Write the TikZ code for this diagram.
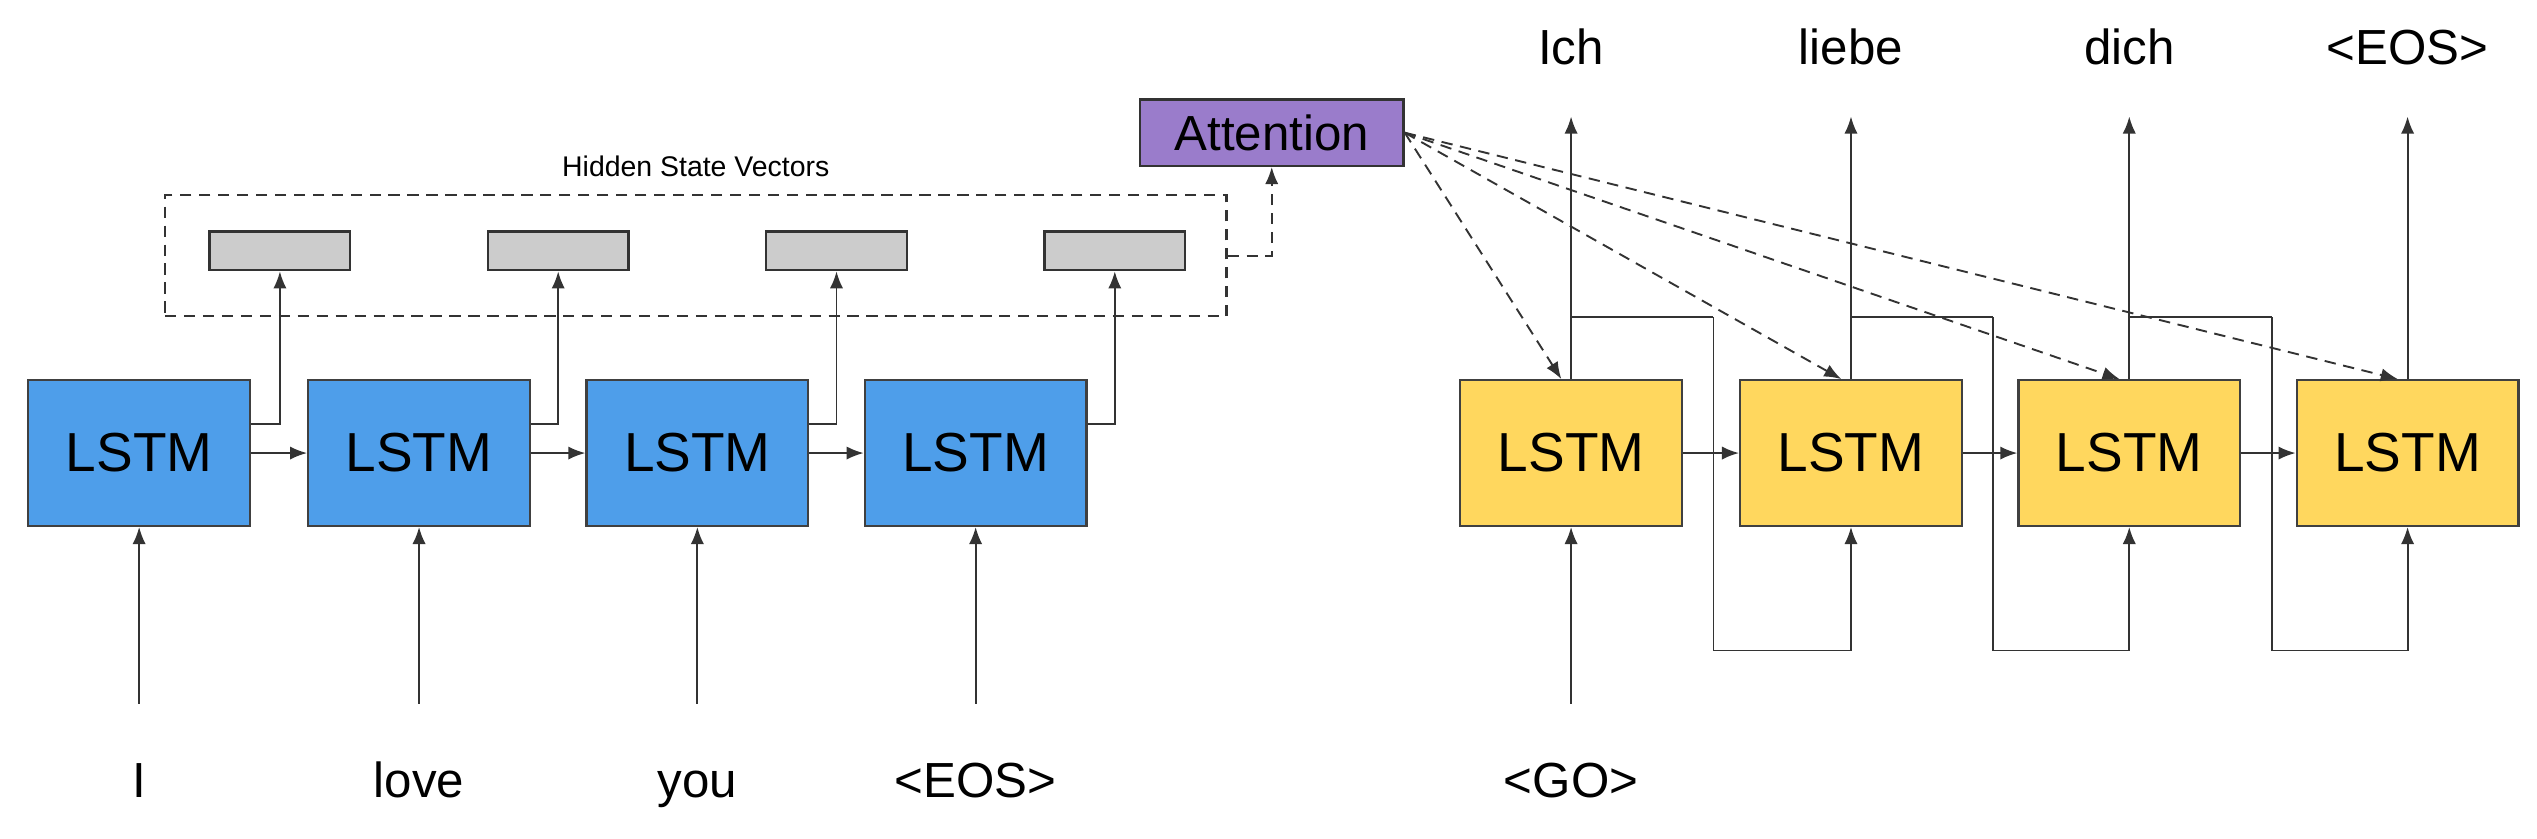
\documentclass[tikz,border=0pt]{standalone}
\usepackage{fontspec}
\setmainfont{Liberation Sans}
\usetikzlibrary{arrows.meta}
\definecolor{encb}{HTML}{4E9EEA}
\definecolor{decy}{HTML}{FFD75E}
\definecolor{attp}{HTML}{9A7CCB}
\definecolor{hgray}{HTML}{CCCCCC}
\begin{document}
\begin{tikzpicture}[x=0.03cm,y=-0.03cm,
  lstm/.style={draw=black!75,line width=1.2pt,minimum width=137*0.03cm,minimum height=90*0.03cm,font=\fontsize{29}{30}\selectfont,inner sep=0},
  enc/.style={lstm,fill=encb},
  dec/.style={lstm,fill=decy},
  hid/.style={draw=black!80,fill=hgray,line width=1.2pt,minimum width=87*0.03cm,minimum height=24*0.03cm,inner sep=0},
  word/.style={font=\fontsize{26}{28}\selectfont,inner sep=0},
  arr/.style={-{Latex[length=9pt,width=7pt]},line width=1pt,black!80},
  darr/.style={arr,dashed,dash pattern=on 6pt off 4pt},
]
\useasboundingbox (0,0) rectangle (1568,518);
% encoder
\foreach \i/\x/\w in {1/86/I,2/259/love,3/431/you,4/603/{<EOS>}}{
  \node[enc] (e\i) at (\x,280) {LSTM};
  \node[word,anchor=base] (w\i) at (\x,493) {\w};
  \coordinate (ein\i) at (\x,435);
  \draw[arr] (ein\i) -- (e\i.south);
}
\foreach \i/\x in {1/173,2/345,3/517,4/689}{
  \node[hid] (h\i) at (\x,155) {};
  \draw[arr] (e\i.east|-0,262) -| (h\i.south);
}
\foreach \a/\b in {1/2,2/3,3/4}{\draw[arr] (e\a) -- (e\b);}
\node[draw=black!80,dashed,dash pattern=on 6pt off 4pt,line width=1.2pt,minimum width=656*0.03cm,minimum height=75*0.03cm] (hb) at (430,158) {};
\node[font=\fontsize{15}{16}\selectfont] (ht) at (430,103) {Hidden State Vectors};
\node[draw=black!80,fill=attp,line width=1.2pt,minimum width=163*0.03cm,minimum height=41*0.03cm,font=\fontsize{26}{28}\selectfont,inner sep=0] (att) at (786,82) {Attention};
\draw[darr] (hb.east) -| (att.south);
% decoder
\foreach \i/\x/\w in {1/971/Ich,2/1144/liebe,3/1316/dich,4/1488/{<EOS>}}{
  \node[dec] (d\i) at (\x,280) {LSTM};
  \node[word,anchor=base] (o\i) at (\x,40) {\w};
  \coordinate (dout\i) at (\x,72);
  \draw[arr] (d\i.north) -- (dout\i);
}
\node[word,anchor=base] (go) at (971,493) {<GO>};
\coordinate (gin) at (971,435);
\draw[arr] (gin) -- (d1.south);
\foreach \a/\b in {1/2,2/3,3/4}{
  \draw[arr] (d\a) -- (d\b);
  \draw[line width=1pt,black!80] (d\a.north|-0,196) -- ++(88,0) coordinate (f\a);
  \draw[arr] (f\a) |- (0,402-|d\b.south) -- (d\b.south);
}
\foreach \i in {1,2,3,4}{
  \draw[darr] (att.east) -- ([xshift=-6*0.03cm]d\i.north);
}
\end{tikzpicture}
\end{document}
